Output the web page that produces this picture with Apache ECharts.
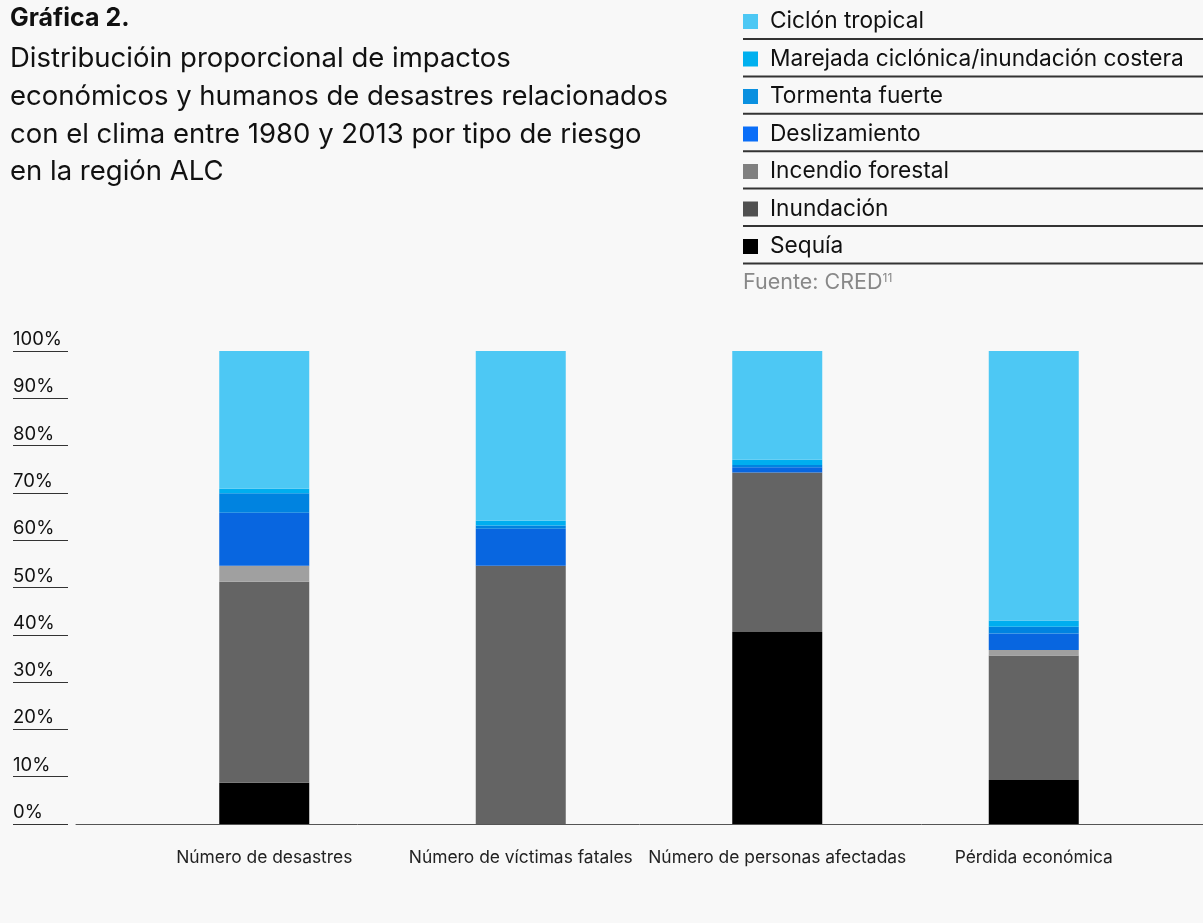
<!DOCTYPE html>
<html>
<head>
<meta charset="utf-8">
<script src="https://cdn.jsdelivr.net/npm/echarts@6/dist/echarts.min.js"></script>
<style>
  html, body { margin: 0; padding: 0; background: #f8f8f8; }
  #chart { width: 1203px; height: 923px; }
</style>
</head>
<body>
<div id="chart"></div>
<script>
// categorías del eje x
const categories = ['Número de desastres', 'Número de víctimas fatales', 'Número de personas afectadas', 'Pérdida económica']
// porcentajes por tipo de riesgo (de abajo hacia arriba)
const sequia = [8.7, 0, 40.6, 9.3]
const inundacion = [42.5, 54.6, 33.7, 26.3]
const incendio = [3.4, 0, 0, 1.2]
const deslizamiento = [11.2, 7.8, 1.1, 3.5]
const tormenta = [4.1, 0.7, 0.5, 1.4]
const marejada = [1.0, 1.0, 1.1, 1.3]
const ciclon = [29.1, 35.9, 23.0, 57.0]
const yTicks = [0, 10, 20, 30, 40, 50, 60, 70, 80, 90, 100]

const FONT = 'Inter, "Liberation Sans", Arial, sans-serif'

const seriesDefs = [
  { name: 'Sequía', data: sequia, color: '#000000', legendColor: '#000000' },
  { name: 'Inundación', data: inundacion, color: '#646464', legendColor: '#505050' },
  { name: 'Incendio forestal', data: incendio, color: '#a0a0a0', legendColor: '#808080' },
  { name: 'Deslizamiento', data: deslizamiento, color: '#0866e0', legendColor: '#0a6ef8' },
  { name: 'Tormenta fuerte', data: tormenta, color: '#0083e0', legendColor: '#0a90e0' },
  { name: 'Marejada ciclónica/inundación costera', data: marejada, color: '#00aeef', legendColor: '#00b0ef' },
  { name: 'Ciclón tropical', data: ciclon, color: '#4dc8f4', legendColor: '#4dc8f4' },
]
const legendData = seriesDefs
  .map((s) => ({ name: s.name, itemStyle: { color: s.legendColor } }))
  .reverse()

const chart = echarts.init(document.getElementById('chart'))

// líneas separadoras de la leyenda
let legendLines = []
for (let i = 0; i < 7; i++) {
  legendLines.push({
    type: 'line',
    shape: { x1: 743, y1: 39 + i * 37.4, x2: 1203, y2: 39 + i * 37.4 },
    style: { stroke: '#333', lineWidth: 2 },
  })
}

let option = {
  backgroundColor: '#f8f8f8',
  animation: false,
  textStyle: { fontFamily: FONT },
  title: [
    {
      text: 'Gráfica 2.',
      left: 10,
      top: 6,
      padding: 0,
      textStyle: { fontFamily: FONT, fontSize: 25, fontWeight: 'bold', color: '#111' },
    },
    {
      text: 'Distribucióin proporcional de impactos\neconómicos y humanos de desastres relacionados\ncon el clima entre 1980 y 2013 por tipo de riesgo\nen la región ALC',
      left: 10,
      top: 40,
      padding: 0,
      textStyle: { fontFamily: FONT, fontSize: 27.5, fontWeight: 'normal', color: '#111', lineHeight: 37.7 },
    },
    {
      text: 'Fuente: CRED{sup|11}',
      left: 743,
      top: 272,
      padding: 0,
      textStyle: {
        fontFamily: FONT, fontSize: 21.5, fontWeight: 'normal', color: '#888',
        rich: { sup: { fontFamily: FONT, fontSize: 12, color: '#888', verticalAlign: 'top', padding: [0, 0, 10, 0] } },
      },
    },
  ],
  legend: {
    orient: 'vertical',
    left: 743,
    top: 9.5,
    padding: 0,
    data: legendData,
    icon: 'rect',
    itemWidth: 15,
    itemHeight: 15,
    itemGap: 13.5,
    selectedMode: false,
    textStyle: { fontFamily: FONT, fontSize: 22.7, color: '#111', padding: [0, 0, 0, 7], lineHeight: 24 },
  },
  graphic: legendLines,
  grid: [
    { left: 76, right: 0, top: 351, bottom: 99 },
    { left: 136, right: 41, top: 351, bottom: 99 },
  ],
  xAxis: [
    {
      type: 'category',
      gridIndex: 0,
      data: [''],
      axisLine: { show: true, lineStyle: { color: '#555', width: 1 } },
      axisTick: { show: false },
      axisLabel: { show: false },
    },
    {
      type: 'category',
      gridIndex: 1,
      data: categories,
      axisLine: { show: false },
      axisTick: { show: false },
      axisLabel: { interval: 0, fontFamily: FONT, fontSize: 17.4, color: '#222', margin: 25 },
    },
  ],
  yAxis: [
    {
      type: 'value',
      gridIndex: 0,
      min: yTicks[0],
      max: yTicks[yTicks.length - 1],
      interval: 10,
      offset: 8,
      axisLine: { show: false },
      axisTick: { show: true, length: 55, lineStyle: { color: '#333', width: 1 } },
      splitLine: { show: false },
      axisLabel: {
        align: 'left',
        verticalAlign: 'bottom',
        margin: 55,
        padding: [0, 0, 2, 0],
        fontFamily: FONT,
        fontSize: 18.5,
        color: '#111',
        formatter: (v) => v + '%',
      },
    },
    {
      type: 'value',
      gridIndex: 1,
      min: 0,
      max: 100,
      show: false,
    },
  ],
  series: seriesDefs.map((s) => ({
    name: s.name,
    type: 'bar',
    stack: 'total',
    xAxisIndex: 1,
    yAxisIndex: 1,
    barWidth: 90,
    itemStyle: { color: s.color },
    data: s.data,
  })),
}

chart.setOption(option)
</script>
</body>
</html>
